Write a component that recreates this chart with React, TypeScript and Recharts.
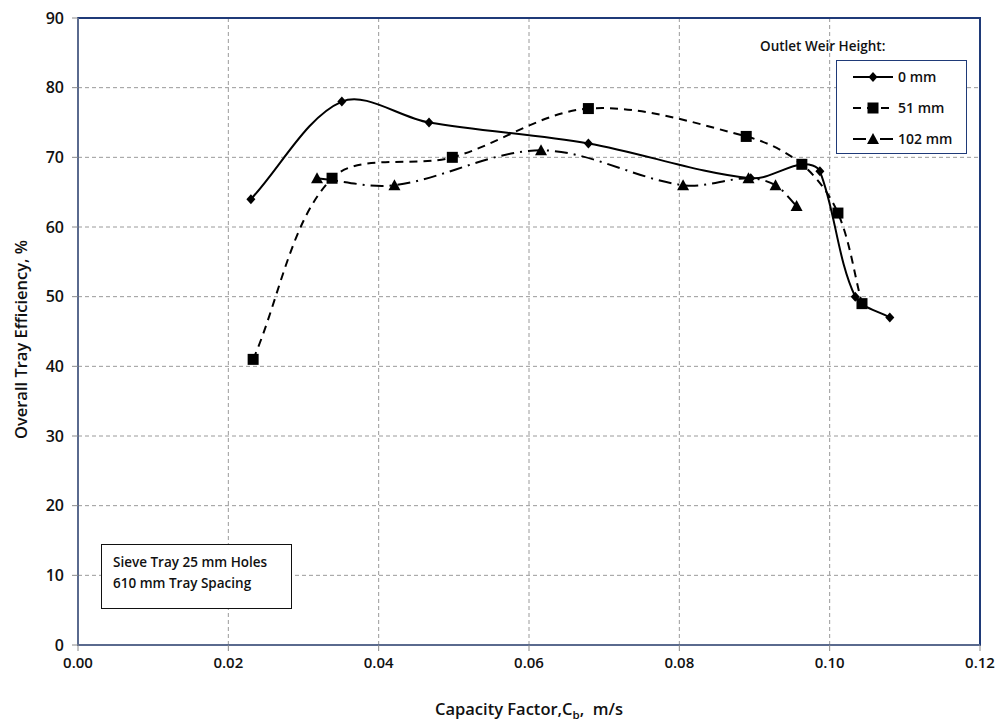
import React from 'react';
import { LineChart, Line, XAxis, YAxis, CartesianGrid, ReferenceArea, Legend } from 'recharts';

const seriesNames = ['0 mm', '51 mm', '102 mm'];

const x0mm = [0.0230, 0.0351, 0.0467, 0.0679, 0.0895, 0.0964, 0.0987, 0.1034, 0.1080];
const y0mm = [64, 78, 75, 72, 67, 69, 68, 50, 47];

const x51mm = [0.0233, 0.0338, 0.0498, 0.0679, 0.0889, 0.0963, 0.1011, 0.1043];
const y51mm = [41, 67, 70, 77, 73, 69, 62, 49];

const x102mm = [0.0318, 0.0421, 0.0616, 0.0805, 0.0892, 0.0928, 0.0956];
const y102mm = [67, 66, 71, 66, 67, 66, 63];

const xTicks = [0, 0.02, 0.04, 0.06, 0.08, 0.10, 0.12];
const yTicks = [0, 10, 20, 30, 40, 50, 60, 70, 80, 90];

const legendTitle = 'Outlet Weir Height:';
const noteLines = ['Sieve Tray 25 mm Holes', '610 mm Tray Spacing'];

const toPoints = (xs: number[], ys: number[]) => xs.map((x, i) => ({ x, y: ys[i] }));

const FONT = '"Open Sans", "Noto Sans", sans-serif';
const BORDER = '#1f3a78';

// Excel-like smoothed line: bezier with tangent arms scaled by segment lengths
function excelCurve(context: any) {
  let pts: number[][] = [];
  const dist = (a: number[], b: number[]) => Math.hypot(b[0] - a[0], b[1] - a[1]);
  return {
    areaStart() {},
    areaEnd() {},
    lineStart() { pts = []; },
    point(x: number, y: number) { pts.push([+x, +y]); },
    lineEnd() {
      const n = pts.length;
      if (!n) return;
      context.moveTo(pts[0][0], pts[0][1]);
      for (let i = 0; i < n - 1; i++) {
        const p0 = pts[Math.max(i - 1, 0)];
        const p1 = pts[i];
        const p2 = pts[i + 1];
        const p3 = pts[Math.min(i + 2, n - 1)];
        const d01 = dist(p0, p1), d12 = dist(p1, p2), d23 = dist(p2, p3);
        const s1 = d01 + d12 > 0 ? d12 / (d01 + d12) / 3 : 0;
        const s2 = d12 + d23 > 0 ? d12 / (d12 + d23) / 3 : 0;
        context.bezierCurveTo(
          p1[0] + (p2[0] - p0[0]) * s1, p1[1] + (p2[1] - p0[1]) * s1,
          p2[0] - (p3[0] - p1[0]) * s2, p2[1] - (p3[1] - p1[1]) * s2,
          p2[0], p2[1]
        );
      }
    },
  };
}

const Diamond = ({ cx, cy }: any) => (
  <path d={`M${cx},${cy - 5}L${cx + 4.5},${cy}L${cx},${cy + 5}L${cx - 4.5},${cy}Z`} fill="#000" />
);
const Square = ({ cx, cy }: any) => (
  <rect x={cx - 5.5} y={cy - 5.5} width={11} height={11} fill="#000" />
);
const Triangle = ({ cx, cy }: any) => (
  <path d={`M${cx},${cy - 6}L${cx + 6},${cy + 5}L${cx - 6},${cy + 5}Z`} fill="#000" />
);

const markers = [Diamond, Square, Triangle];
const dashes = [undefined, '8 6', '13 6 2 6'];

const renderLegend = () => (
  <div style={{ position: 'relative', width: 240, height: 130, fontFamily: FONT }}>
    <div style={{ position: 'absolute', left: 20, top: 7, fontSize: 13.5, fontWeight: 600, color: '#111', whiteSpace: 'nowrap' }}>
      {legendTitle}
    </div>
    <svg style={{ position: 'absolute', left: 96, top: 30 }} width={131} height={95}>
      <rect x={0.5} y={0.5} width={130} height={93} fill="#fff" stroke={BORDER} strokeWidth={1} />
      {seriesNames.map((name, i) => {
        const y = 17 + i * 31;
        const M = markers[i];
        return (
          <g key={name}>
            <line x1={17} x2={57} y1={y} y2={y} stroke="#000" strokeWidth={2} strokeDasharray={dashes[i]} />
            <M cx={37} cy={y} />
            <text x={62} y={y + 5} fontSize={14} fontFamily={FONT} fontWeight={600} fill="#111">{name}</text>
          </g>
        );
      })}
    </svg>
  </div>
);

const YLabel = ({ viewBox }: any) => {
  const cx = 20;
  const cy = viewBox.y + viewBox.height / 2 + 8;
  return (
    <text x={cx} y={cy} transform={`rotate(-90, ${cx}, ${cy})`} textAnchor="middle" dominantBaseline="central"
      fontSize={16.5} fontFamily={FONT} fontWeight={600} fill="#111">
      Overall Tray Efficiency, %
    </text>
  );
};

const XLabel = ({ viewBox }: any) => {
  const cx = viewBox.x + viewBox.width / 2;
  return (
    <text x={cx} y={715} textAnchor="middle" fontSize={16.5} fontFamily={FONT} fontWeight={600} fill="#111">
      <tspan>Capacity Factor,C</tspan>
      <tspan fontSize={11.5} dy={4}>b</tspan>
      <tspan dy={-4}>{',\u00a0\u00a0m/s'}</tspan>
    </text>
  );
};

export default function App() {
  const data = [toPoints(x0mm, y0mm), toPoints(x51mm, y51mm), toPoints(x102mm, y102mm)];
  return (
    <div style={{ position: 'absolute', left: 0, top: 0, width: 995, height: 721, background: '#fff' }}>
      <LineChart width={995} height={721} margin={{ top: 18, right: 15, left: 0, bottom: 16 }}>
        <CartesianGrid stroke="#9a9a9a" strokeDasharray="4 3" strokeWidth={1} />
        <XAxis
          type="number"
          dataKey="x"
          domain={[0, 0.12]}
          ticks={xTicks}
          tickFormatter={(v: number) => v.toFixed(2)}
          height={60}
          tickSize={6}
          tickMargin={6}
          axisLine={{ stroke: '#5a6a8e', strokeWidth: 2 }}
          tickLine={{ stroke: '#8a8a8a' }}
          tick={{ fontSize: 15, fontFamily: FONT, fontWeight: 600, fill: '#111' }}
          allowDataOverflow
          label={<XLabel />}
        />
        <YAxis
          type="number"
          dataKey="y"
          domain={[0, 90]}
          ticks={yTicks}
          width={78}
          tickSize={6}
          tickMargin={8}
          axisLine={{ stroke: '#5a6a8e', strokeWidth: 2 }}
          tickLine={{ stroke: '#8a8a8a' }}
          tick={{ fontSize: 16, fontFamily: FONT, fontWeight: 600, fill: '#111' }}
          allowDataOverflow
          label={<YLabel />}
        />
        <ReferenceArea x1={0} x2={0.12} y1={0} y2={90} fill="none" stroke={BORDER} strokeWidth={2} />
        {data.map((d, i) => {
          const M = markers[i];
          return (
            <Line
              key={seriesNames[i]}
              name={seriesNames[i]}
              data={d}
              dataKey="y"
              type={excelCurve as any}
              stroke="#000"
              strokeWidth={2}
              strokeDasharray={dashes[i]}
              dot={(p: any) => <M key={`${i}-${p.index}`} cx={p.cx} cy={p.cy} />}
              activeDot={false}
              isAnimationActive={false}
            />
          );
        })}
        <Legend
          layout="vertical"
          align="center"
          verticalAlign="middle"
          content={renderLegend}
          wrapperStyle={{ position: 'absolute', left: 740, top: 30, width: 240, height: 130 }}
        />
      </LineChart>
      <div style={{
        position: 'absolute', left: 101, top: 544, width: 191, height: 65, border: '1px solid #111',
        background: '#fff', fontFamily: FONT, fontSize: 13.5, fontWeight: 600, color: '#111', boxSizing: 'border-box',
        padding: '7px 0 0 11px', lineHeight: '21px', whiteSpace: 'nowrap'
      }}>
        {noteLines.map((l) => <div key={l}>{l}</div>)}
      </div>
    </div>
  );
}
